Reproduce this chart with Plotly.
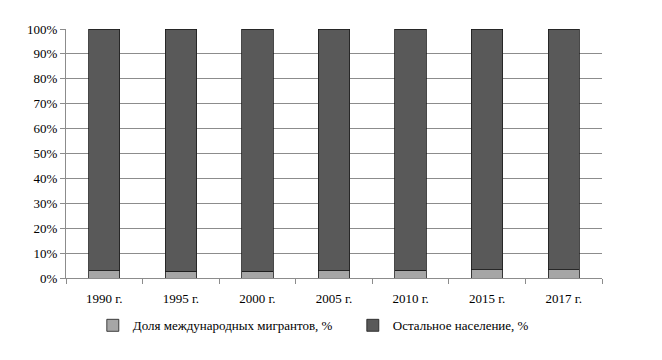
import plotly.graph_objects as go

years = ["1990 г.", "1995 г.", "2000 г.", "2005 г.", "2010 г.", "2015 г.", "2017 г."]
migrants = [2.9, 2.8, 2.8, 2.9, 3.2, 3.3, 3.4]
rest = [round(100 - m, 1) for m in migrants]

font_family = "Liberation Serif"

fig = go.Figure()
fig.add_trace(go.Bar(
    x=years, y=migrants, name="Доля международных мигрантов, %",
    marker=dict(color="#a6a6a6", line=dict(color="#1a1a1a", width=0.8)),
    width=0.41,
))
fig.add_trace(go.Bar(
    x=years, y=rest, name="Остальное население, %",
    marker=dict(color="#595959", line=dict(color="#1a1a1a", width=0.8)),
    width=0.41,
))

fig.update_layout(
    barmode="stack",
    width=662, height=360,
    margin=dict(l=58, r=68, t=21, b=90, autoexpand=False),
    paper_bgcolor="white", plot_bgcolor="white",
    font=dict(family=font_family, size=13, color="#000000"),
    showlegend=True,
    legend=dict(orientation="h", x=0.05, xanchor="left", y=-0.13, yanchor="top",
                font=dict(family=font_family, size=13), traceorder="normal",
                itemwidth=30, entrywidth=215, entrywidthmode="pixels",
                tracegroupgap=0),
    xaxis=dict(
        showgrid=False, showline=True, linecolor="#8c8c8c", linewidth=1,
        ticks="outside", tickson="boundaries", ticklen=5, tickcolor="#8c8c8c",
        tickfont=dict(family=font_family, size=13), ticklabelstandoff=8,
    ),
    yaxis=dict(
        range=[0, 100], tickvals=list(range(0, 101, 10)),
        ticktext=[f"{v}%" for v in range(0, 101, 10)],
        showgrid=True, gridcolor="#8c8c8c", gridwidth=1,
        showline=True, linecolor="#8c8c8c", linewidth=1,
        ticks="outside", ticklen=5, tickcolor="#8c8c8c",
        tickfont=dict(family=font_family, size=13),
        zeroline=False,
    ),
)

fig.write_html("out.html")
